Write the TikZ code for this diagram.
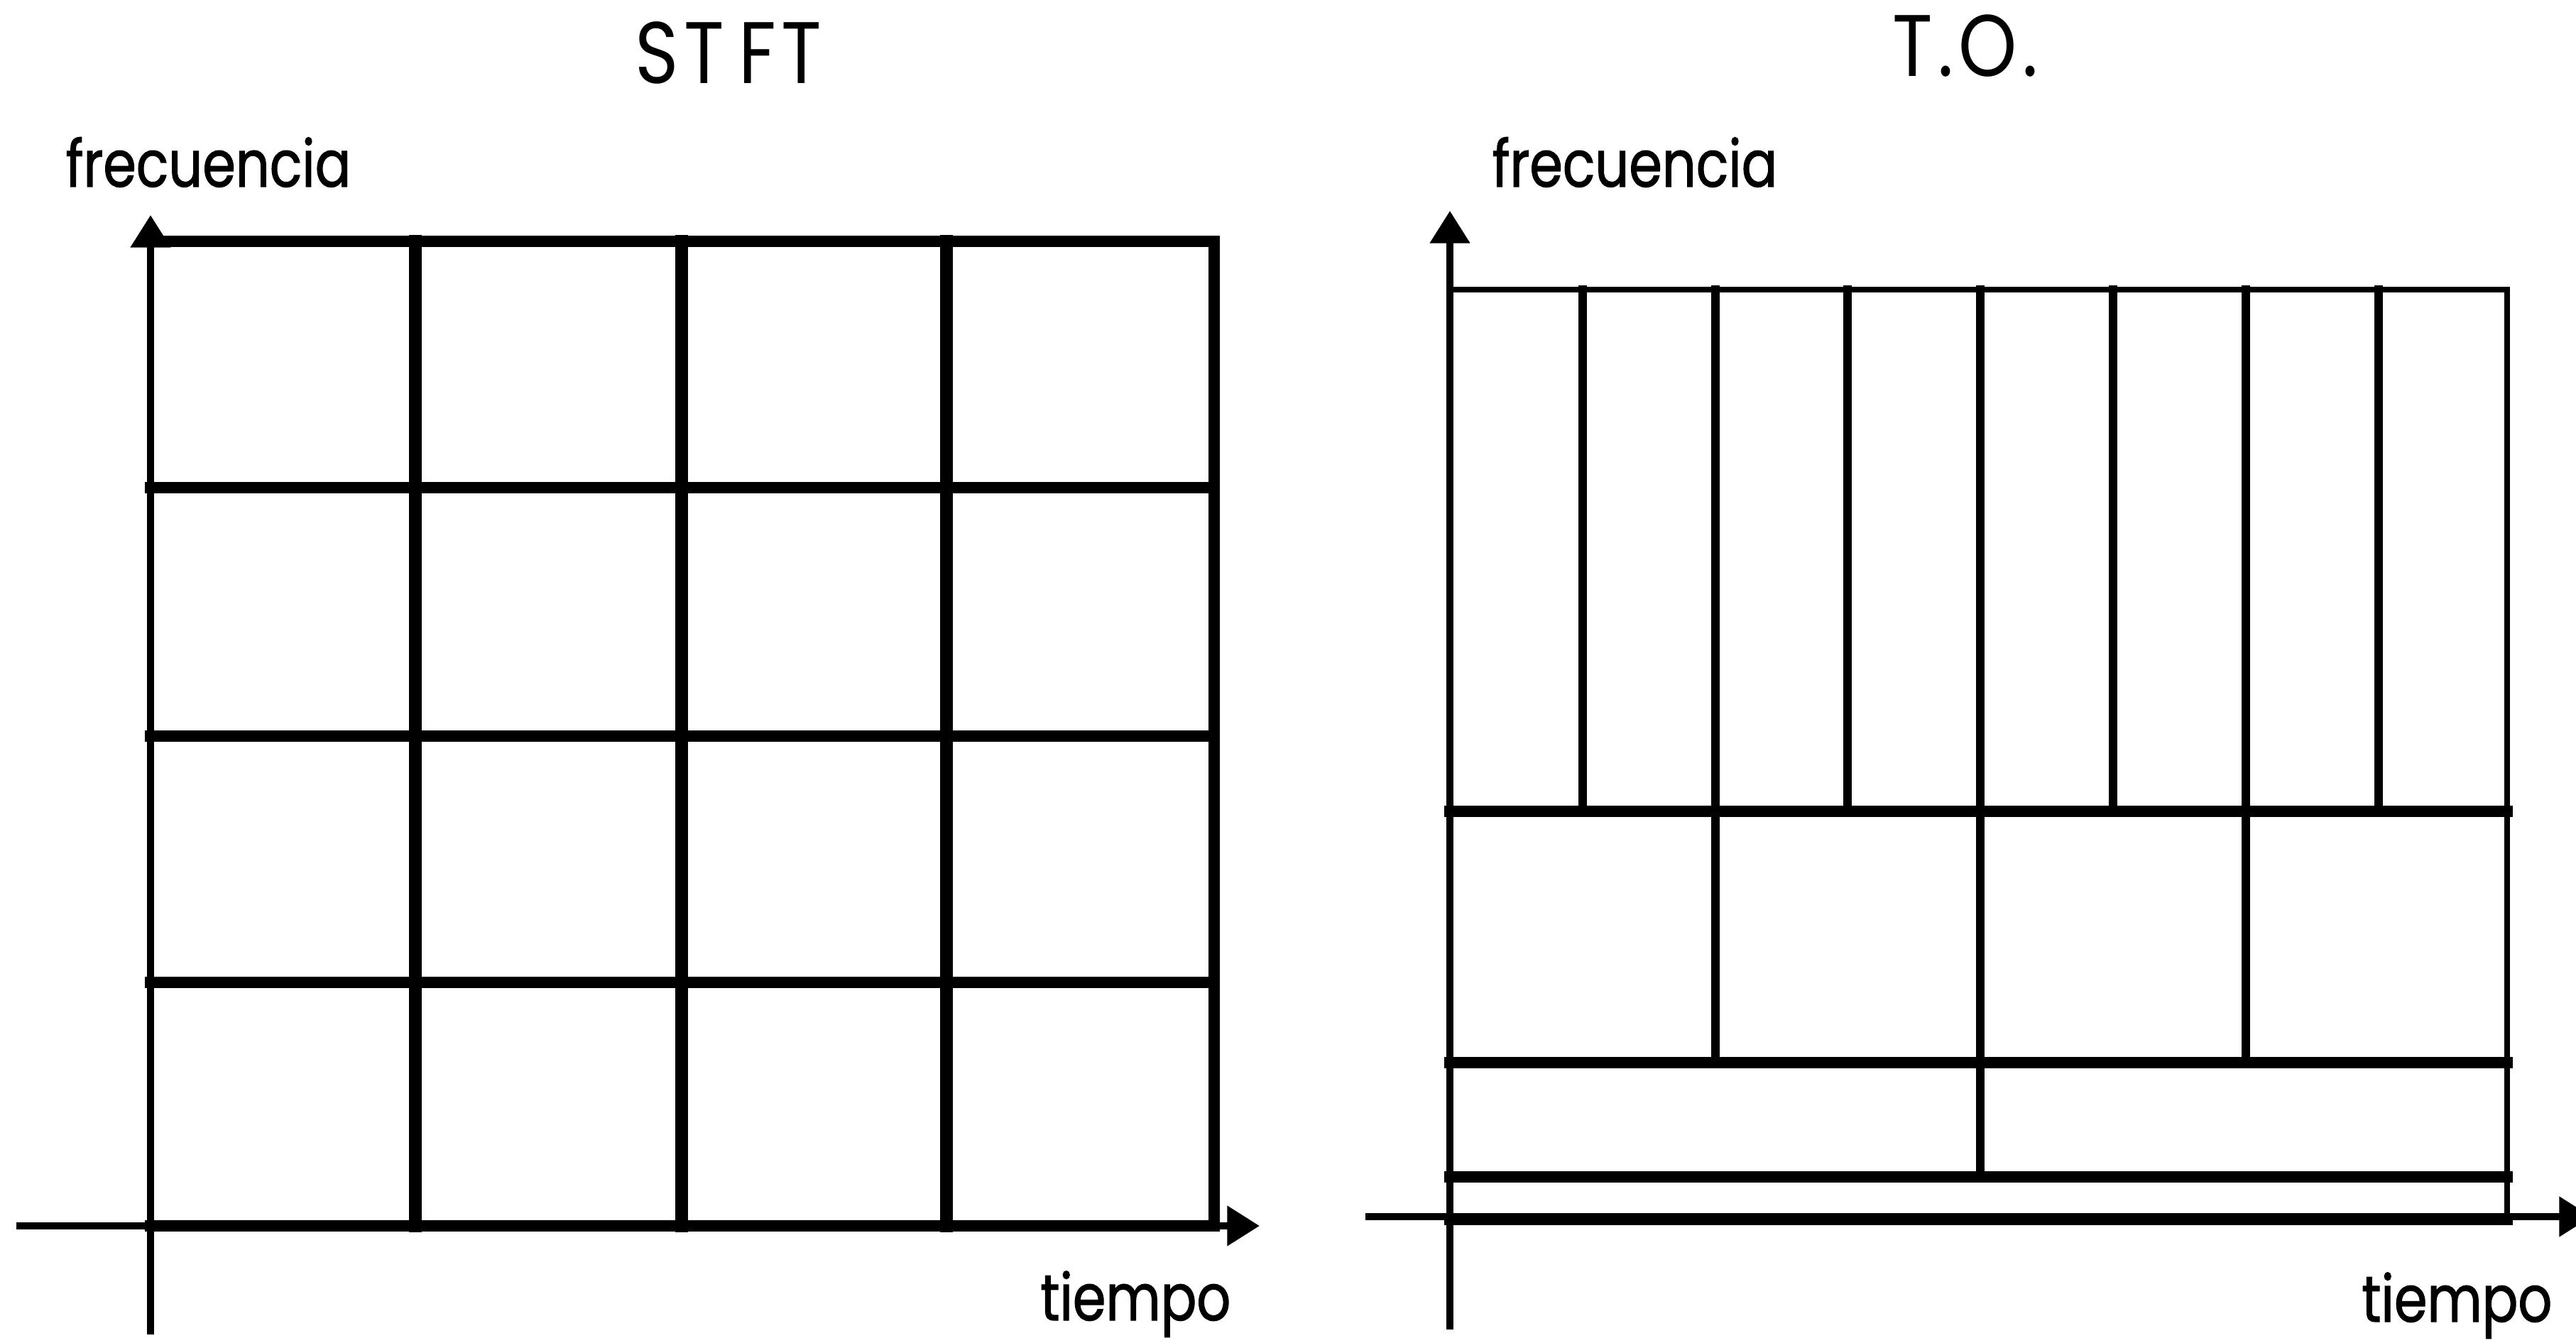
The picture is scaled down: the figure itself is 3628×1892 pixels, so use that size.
\documentclass[tikz,border=0pt]{standalone}
\usepackage{fontspec}
\newfontfamily\gothic[FakeStretch=0.82,FakeBold=1.2]{Poppins}
\newfontfamily\gothictitle[FakeStretch=0.85,LetterSpace=6]{Poppins}
\usetikzlibrary{arrows.meta}

\begin{document}
\begin{tikzpicture}
  [x=0.01cm,y=-0.01cm,
   every node/.style={inner sep=0pt,font=\gothic\fontsize{26}{26}\selectfont},
   titel/.style={font=\gothictitle\fontsize{35}{35}\selectfont},
   axisline/.style={line width=2.8pt,-{Triangle[length=13pt,width=15.5pt]}},
   cellline/.style={line width=4.4pt,line cap=rect},
   vline/.style={line width=5pt,line cap=rect},
   thinline/.style={line width=3.6pt,line cap=rect},
   edgeline/.style={line width=2.4pt,line cap=rect}]
  \useasboundingbox (0,0) rectangle (3628,1892);

  \node[titel,anchor=base] (t1) at (1026,118) {ST\,FT};
  \node[titel,anchor=base] (t2) at (2768,108) {T.O.};
  \node[anchor=base west] (f1) at (92,263)    {frecuencia};
  \node[anchor=base west] (f2) at (2101,263)  {frecuencia};
  \node[anchor=base east] (z1) at (1734,1860) {tiempo};
  \node[anchor=base east] (z2) at (3595,1862) {tiempo};

  \coordinate (xs1) at (23,1727);   \coordinate (xe1) at (1774,1727);
  \coordinate (ys1) at (212,1880);  \coordinate (ye1) at (212,303);
  \coordinate (xs2) at (1923,1714); \coordinate (xe2) at (3650,1714);
  \coordinate (ys2) at (2042,1873); \coordinate (ye2) at (2042,297);

  \foreach \y in {340,687,1037,1384,1727}
     \draw[cellline] (212,\y) -- (1710,\y);
  \foreach \x in {585,960,1333}
     \draw[vline] (\x,340) -- (\x,1727);
  \draw[cellline] (1710,340) -- (1710,1727);

  \draw[edgeline] (2042,408) -- (3531,408);
  \foreach \y in {1143,1497,1658,1718}
     \draw[cellline] (2042,\y) -- (3531,\y);
  \foreach \x in {2229,2416,2602,2789,2976,3163,3350}
     \draw[thinline] (\x,408) -- (\x,1143);
  \foreach \x in {2416,2789,3163}
     \draw[thinline] (\x,1143) -- (\x,1497);
  \draw[thinline] (2789,1497) -- (2789,1658);
  \draw[edgeline] (3531,408) -- (3531,1718);

  \foreach \from/\to in {xs1/xe1,ys1/ye1,xs2/xe2,ys2/ye2}
     \draw[axisline] (\from) -- (\to);
\end{tikzpicture}
\end{document}
